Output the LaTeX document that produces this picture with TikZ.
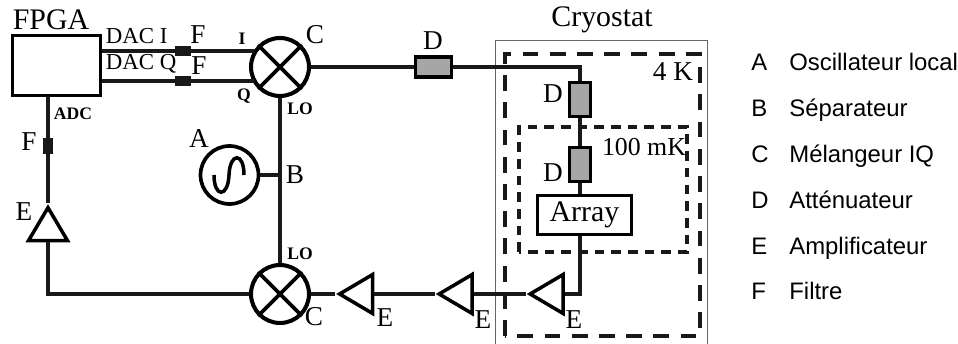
\documentclass[tikz,border=0pt]{standalone}
\usepackage{fontspec}
\setmainfont{Liberation Serif}
\newfontfamily\legendfont{Liberation Sans}
\usetikzlibrary{positioning, calc, shapes.geometric}
\tikzset{
    wire/.style={line width=2pt, black!90},
    mixer/.style={circle, draw, line width=2.3pt, minimum size=1.16cm, inner sep=0pt},
    attn/.style={rectangle, draw, line width=2.1pt, fill=black!35, inner sep=0pt},
    filt/.style={rectangle, fill=black!90, inner sep=0pt},
    amp/.style={isosceles triangle, isosceles triangle stretches, draw, line width=2pt, fill=white,
        inner sep=0pt, minimum height=0.66cm, minimum width=0.78cm},
    lab/.style={font=\fontsize{15.5}{17}\selectfont, inner sep=0pt},
    sublab/.style={font=\fontsize{10}{12}\selectfont\bfseries, inner sep=0pt},
    daclab/.style={font=\fontsize{13}{15}\selectfont, inner sep=0pt, anchor=west},
    biglab/.style={font=\fontsize{17}{20}\selectfont, inner sep=0pt},
    legendlab/.style={font=\fontsize{13.6}{15}\selectfont\legendfont, inner sep=0pt, anchor=base west}
}
\begin{document}
\begin{tikzpicture}[x=0.02cm, y=-0.02cm]
    \useasboundingbox (0,0) rectangle (958,344);
    % cryostat and temperature stages
    \draw[black!60, line width=0.5pt] (495,344) -- (495,40) -- (707,40) -- (707,344);
    \draw[line width=2.1pt, black!90, dash pattern=on 9pt off 6.5pt] (505,336) -- (505,54) -- (700,54) -- (700,336) -- cycle;
    \draw[line width=1.9pt, black!90, dash pattern=on 5.5pt off 4pt] (519,252) -- (519,127) -- (687,127) -- (687,252) -- cycle;
    % main blocks
    \node[draw, line width=2.1pt, minimum width=1.76cm, minimum height=1.2cm, inner sep=0pt] (fpga) at (56.5,65.5) {};
    \node[mixer] (mixTop) at (280,67) {};
    \node[mixer] (mixBot) at (280,294) {};
    \node[circle, draw, line width=2.1pt, minimum size=1.16cm, inner sep=0pt] (osc) at (229.5,175) {};
    \node[draw, line width=2.1pt, fill=white, minimum width=1.88cm, minimum height=0.78cm, inner sep=0pt, biglab] (array) at (584.5,215) {Array};
    % attenuators
    \node[attn, minimum width=0.72cm, minimum height=0.4cm] (attnA) at (433.5,67) {};
    \node[attn, minimum width=0.42cm, minimum height=0.68cm] (attnB) at (580,99.5) {};
    \node[attn, minimum width=0.42cm, minimum height=0.68cm] (attnC) at (580,164.5) {};
    % filters
    \node[filt, minimum width=0.32cm, minimum height=0.2cm] (filtI) at (183,51) {};
    \node[filt, minimum width=0.32cm, minimum height=0.2cm] (filtQ) at (183,81) {};
    \node[filt, minimum width=0.2cm, minimum height=0.32cm] (filtA) at (48,146) {};
    % amplifiers
    \node[amp, shape border rotate=90] (ampA) at (48,229.5) {};
    \node[amp, shape border rotate=180] (ampB) at (361.5,294) {};
    \node[amp, shape border rotate=180] (ampC) at (461,294) {};
    \node[amp, shape border rotate=180] (ampD) at (552,294) {};
    \coordinate (junB) at (280,175);
    \coordinate (corA) at (48,294);
    \coordinate (corB) at (580,67);
    \coordinate (corC) at (580,294);
    % upper lines
    \draw[wire] (fpga.east |- filtI) -- (filtI) -- (filtI -| mixTop.148);
    \draw[wire] (fpga.east |- filtQ) -- (filtQ) -- (filtQ -| mixTop.212);
    \draw[wire] (mixTop.east) -- (attnA);
    \draw[wire] (attnA) -- (corB) -- (attnB);
    \draw[wire] (attnB) -- (attnC) -- (attnC |- array.north);
    \draw[wire] (array.south -| corC) -- (corC) -- (ampD.lower side);
    \draw[wire] (ampD.apex) -- (ampC.lower side);
    \draw[wire] (ampC.apex) -- (ampB.lower side);
    \draw[wire] (ampB.apex) -- (mixBot.east);
    \draw[wire] (mixBot.west) -- (corA) -- (ampA.lower side);
    \draw[wire] (ampA.apex) -- (filtA) -- (fpga.south -| filtA);
    \draw[wire] (mixTop.south) -- (mixBot.north);
    \draw[wire] (osc.east) -- (junB);
    % crosses of the mixers
    \draw[line width=2.1pt] (mixTop.45) -- (mixTop.225) (mixTop.135) -- (mixTop.315);
    \draw[line width=2.1pt] (mixBot.45) -- (mixBot.225) (mixBot.135) -- (mixBot.315);
    % sine of the oscillator
    \draw[line width=2pt] (214,175) .. controls (214,198) and (228,198) .. (229,175) .. controls (230,152) and (244,152) .. (244,175);
    % labels
    \node[biglab] (lFPGA) at (51,20) {FPGA};
    \node[biglab] (lCryo) at (602,20) {Cryostat};
    \node[daclab] (lDACI) at (105.5,36.5) {DAC I};
    \node[daclab] (lDACQ) at (105.5,64) {DAC Q};
    \node[lab] (lFa) at (198,35) {F};
    \node[lab] (lFb) at (199,66) {F};
    \node[lab] (lFc) at (29,142) {F};
    \node[sublab] (lI) at (242,39) {I};
    \node[sublab] (lQ) at (244,96) {Q};
    \node[sublab] (lLOa) at (300,109) {LO};
    \node[sublab] (lLOb) at (300,254) {LO};
    \node[sublab] (lADC) at (73,114) {ADC};
    \node[lab] (lCa) at (315,35) {C};
    \node[lab] (lCb) at (314,317) {C};
    \node[lab] (lA) at (199,139) {A};
    \node[lab] (lB) at (295,175) {B};
    \node[lab] (lDa) at (433,41) {D};
    \node[lab] (lDb) at (553,94) {D};
    \node[lab] (lDc) at (553,173) {D};
    \node[lab] (lEa) at (24,212) {E};
    \node[lab] (lEb) at (385,318) {E};
    \node[lab] (lEc) at (483,320) {E};
    \node[lab] (lEd) at (574,320) {E};
    \node[lab] (l4K) at (673,72) {4 K};
    \node[font=\fontsize{14.7}{16}\selectfont, inner sep=0pt] (l100) at (644,147) {100 mK};
    % legend
    \foreach \k/\txt [count=\i from 0] in {A/Oscillateur local, B/Séparateur, C/Mélangeur IQ, D/Atténuateur, E/Amplificateur, F/Filtre} {
        \node[legendlab] (key\k) at (751,71+45.8*\i) {\k};
        \node[legendlab] (txt\k) at (789,71+45.8*\i) {\txt};
    }
\end{tikzpicture}
\end{document}
